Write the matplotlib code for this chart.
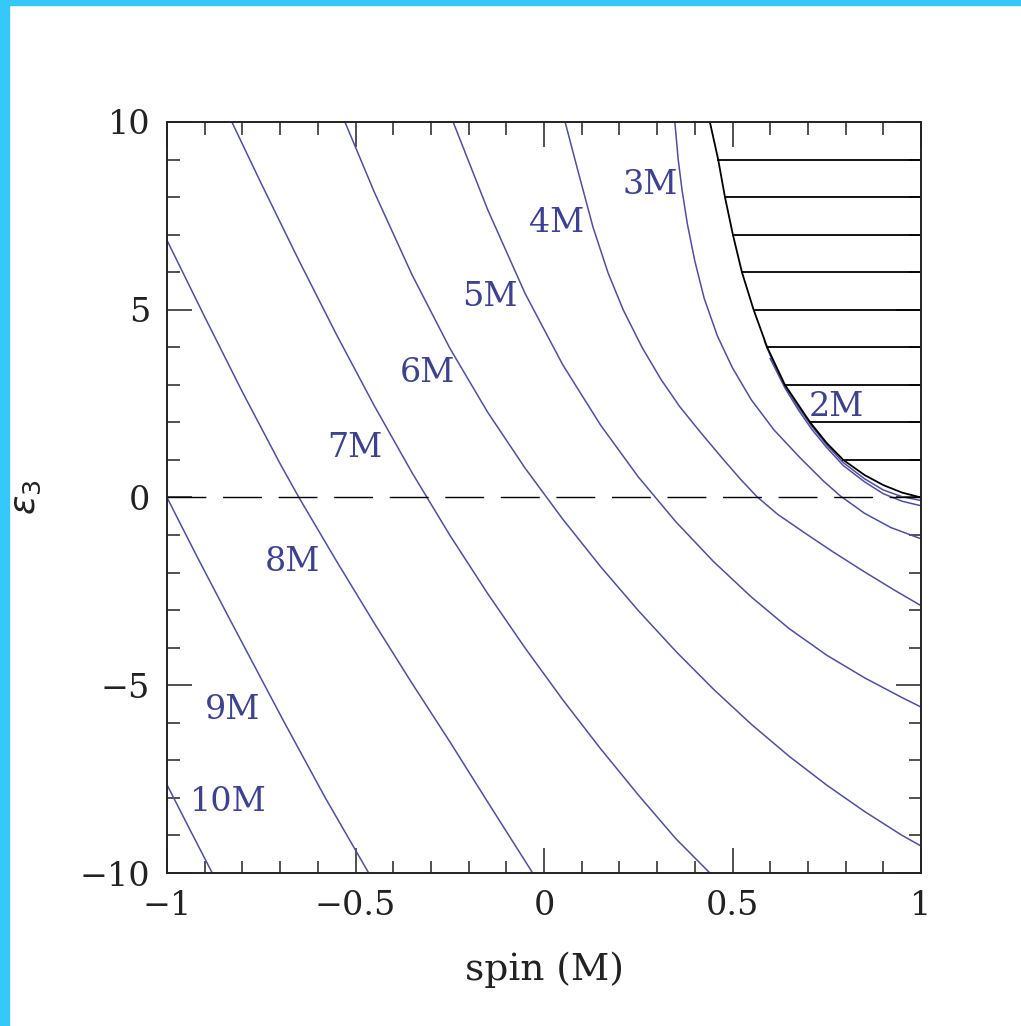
import numpy as np
import matplotlib
matplotlib.use("Agg")
import matplotlib.pyplot as plt
from matplotlib.patches import Rectangle

# ISCO-radius contours in the (spin, eps3) plane
R_LABELS = ["2M", "3M", "4M", "5M", "6M", "7M", "8M", "9M", "10M"]

S_10 = [-1.0, -0.94, -0.88]
E_10 = [-7.65, -8.83, -10.0]

S_9 = [-1.0, -0.92, -0.841, -0.77, -0.692, -0.58, -0.465]
E_9 = [0.0, -1.58, -3.1, -4.45, -5.93, -8.0, -10.0]

S_8 = [-1.0, -0.9, -0.8, -0.7, -0.65, -0.55, -0.45, -0.35, -0.25, -0.15, -0.03]
E_8 = [6.85, 4.81, 2.81, 0.9, 0.0, -1.7, -3.35, -4.95, -6.5, -8.1, -10.0]

S_7 = [-0.828, -0.75, -0.65, -0.55, -0.45, -0.35, -0.25, -0.15, -0.05, 0.05, 0.15, 0.25, 0.35, 0.44]
E_7 = [10.0, 8.36, 6.31, 4.33, 2.44, 0.66, -1.0, -2.55, -4.01, -5.39, -6.69, -7.92, -9.09, -10.0]

S_6 = [-0.528, -0.45, -0.35, -0.25, -0.15, -0.05, 0.05, 0.15, 0.25, 0.35, 0.45, 0.55, 0.65, 0.75, 0.85, 0.95, 1.0]
E_6 = [10.0, 8.13, 5.93, 3.98, 2.28, 0.78, -0.58, -1.84, -3.01, -4.1, -5.11, -6.04, -6.89, -7.66, -8.36, -9.0, -9.28]

S_5 = [-0.241, -0.15, -0.05, 0.05, 0.15, 0.25, 0.35, 0.45, 0.55, 0.65, 0.75, 0.85, 0.95, 1.0]
E_5 = [10.0, 7.68, 5.43, 3.53, 1.93, 0.55, -0.65, -1.71, -2.65, -3.49, -4.2, -4.8, -5.33, -5.58]

S_4 = [0.056, 0.09, 0.13, 0.17, 0.21, 0.26, 0.31, 0.36, 0.414, 0.47, 0.52, 0.565, 0.62, 0.7, 0.767, 0.85, 0.93, 1.0]
E_4 = [10.0, 8.7, 7.2, 5.98, 5.0, 4.0, 3.15, 2.42, 1.75, 1.08, 0.5, 0.02, -0.45, -1.0, -1.45, -1.98, -2.47, -2.88]

S_3 = [0.347, 0.356, 0.366, 0.38, 0.40, 0.425, 0.46, 0.50, 0.55, 0.61, 0.68, 0.74, 0.785, 0.85, 0.92, 1.0]
E_3 = [10.0, 9.0, 8.2, 7.3, 6.3, 5.3, 4.3, 3.45, 2.6, 1.8, 1.05, 0.45, 0.05, -0.42, -0.8, -1.1]

S_2a = [0.585, 0.61, 0.64, 0.675, 0.71, 0.75, 0.794, 0.85, 0.9, 0.95, 1.0]
E_2a = [4.15, 3.55, 2.95, 2.4, 1.9, 1.4, 0.93, 0.5, 0.2, 0.02, -0.08]
S_2b = [0.6, 0.64, 0.675, 0.71, 0.75, 0.794, 0.85, 0.9, 0.95, 1.0]
E_2b = [3.7, 2.9, 2.33, 1.82, 1.33, 0.85, 0.42, 0.1, -0.1, -0.22]

# edge of the excluded (hatched) region
S_EDGE = [0.44, 0.462, 0.48, 0.501, 0.525, 0.556, 0.592, 0.639, 0.706, 0.75, 0.794, 0.85, 0.9, 0.95, 1.0]
E_EDGE = [10.0, 9.0, 8.0, 7.0, 6.0, 5.0, 4.0, 3.0, 2.0, 1.45, 1.0, 0.6, 0.33, 0.13, 0.0]
HATCH_E = [1, 2, 3, 4, 5, 6, 7, 8, 9]

# label anchor points (spin, eps3)
LAB_S = [0.777, 0.281, 0.034, -0.143, -0.31, -0.501, -0.666, -0.825, -0.838]
LAB_E = [2.41, 8.32, 7.31, 5.34, 3.32, 1.32, -1.72, -5.66, -8.11]

BLUE = "#4f4f9e"
TXT = "#3d4290"
INK = "#222222"

fig = plt.figure(figsize=(10.21, 10.26), dpi=100)
fig.patch.set_facecolor("white")
fig.add_artist(Rectangle((0, 0), 9 / 1021, 1, transform=fig.transFigure, color="#35c8f8", zorder=0))
fig.add_artist(Rectangle((0, 1 - 5 / 1026), 1, 5 / 1026, transform=fig.transFigure, color="#35c8f8", zorder=0))

ax = fig.add_axes([167 / 1021, 1 - 873 / 1026, 754 / 1021, 751 / 1026])

for s, e in [(S_10, E_10), (S_9, E_9), (S_8, E_8), (S_7, E_7), (S_6, E_6),
             (S_5, E_5), (S_4, E_4), (S_3, E_3), (S_2a, E_2a), (S_2b, E_2b)]:
    ax.plot(s, e, color=BLUE, lw=1.1)

ax.plot(S_EDGE, E_EDGE, color="black", lw=1.3)
for h in HATCH_E:
    s0 = np.interp(h, E_EDGE[::-1], S_EDGE[::-1])
    ax.plot([s0, 1.0], [h, h], color="black", lw=1.3)

ax.axhline(0, color="black", lw=1.0, linestyle=(0, (28, 12)))

for lab, s, e in zip(R_LABELS, LAB_S, LAB_E):
    ax.text(s, e, lab, color=TXT, fontsize=24, family="DejaVu Serif",
            ha="center", va="center")

ax.set_xlim(-1, 1)
ax.set_ylim(-10, 10)
ax.set_xticks([-1, -0.5, 0, 0.5, 1])
ax.set_xticklabels(["\u22121", "\u22120.5", "0", "0.5", "1"])
ax.set_yticks([-10, -5, 0, 5, 10])
ax.set_yticklabels(["\u221210", "\u22125", "0", "5", "10"])
ax.set_xticks(np.arange(-1, 1.01, 0.1), minor=True)
ax.set_yticks(np.arange(-10, 10.1, 1), minor=True)
ax.tick_params(which="both", direction="in", top=True, right=True, width=1.1, color=INK)
ax.tick_params(which="major", length=18, labelsize=24, pad=12)
ax.tick_params(which="minor", length=9)
for lbl in ax.get_xticklabels() + ax.get_yticklabels():
    lbl.set_family("DejaVu Serif")
    lbl.set_color(INK)
for sp in ax.spines.values():
    sp.set_linewidth(1.4)
    sp.set_color(INK)

plt.rcParams["mathtext.fontset"] = "dejavuserif"
ax.set_xlabel("spin (M)", fontsize=27, family="DejaVu Serif", color=INK)
ax.xaxis.set_label_coords(0.5, -0.105)
ax.set_ylabel(r"$\epsilon_3$", fontsize=26, color=INK)
ax.yaxis.set_label_coords(-0.165, 0.5)

fig.savefig("out.png", dpi=100)
